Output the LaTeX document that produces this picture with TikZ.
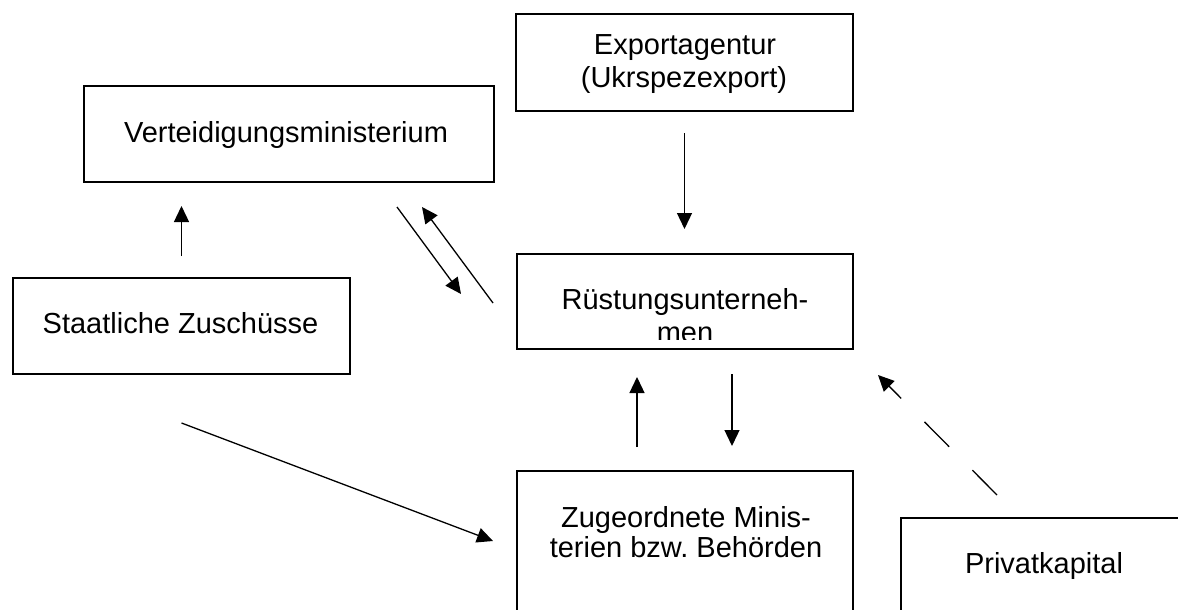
\documentclass[tikz,border=0pt]{standalone}
\usepackage{fontspec}
\setmainfont{Liberation Sans}
\usetikzlibrary{arrows.meta,calc}
\begin{document}
\frenchspacing
\begin{tikzpicture}[x=1pt,y=-1pt,
  box/.style={draw, line width=1.8pt, rectangle, inner sep=0pt, outer sep=0pt},
  txt/.style={anchor=base, inner sep=0pt, outer sep=0pt, font=\fontsize{29}{33}\selectfont},
  arr/.style={line width=1.3pt, -{Triangle[length=16pt,width=15pt]}},
  dsh/.style={dash pattern=on 35pt off 33pt},
]
\clip (0,0) rectangle (1178,610);
\fill[white] (0,0) rectangle (1178,610);

% boxes
\node[box, minimum width=337pt, minimum height=97pt] (exp) at (684.5,62.5) {};
\node[box, minimum width=410pt, minimum height=96pt] (ver) at (289,134) {};
\node[box, minimum width=337pt, minimum height=96pt] (sta) at (181.5,326) {};
\node[box, minimum width=336pt, minimum height=95pt] (rue) at (685,301.5) {};
\node[box, minimum width=336pt, minimum height=179pt] (zug) at (685,560.5) {};
\node[box, minimum width=319pt, minimum height=132pt] (pri) at (1060.5,584) {};

% texts
\node[txt] (expA) at (685,55) {Exportagentur};
\node[txt] (expB) at (684,88) {(Ukrspezexport)};
\node[txt] (verA) at (286,142) {Verteidigungsministerium};
\node[txt] (staA) at (180.5,333) {Staatliche Zuschüsse};
\begin{scope}
  \clip (517,250) rectangle (853,339);
  \node[txt] (rueA) at (685,309) {Rüstungsunterneh-};
  \node[txt] (rueB) at (685,342) {men};
\end{scope}
\node[txt] (zugA) at (686,527) {Zugeordnete Minis-};
\node[txt] (zugB) at (686,557) {terien bzw.\ Behörden};
\node[txt] (priA) at (1044,573) {Privatkapital};

% connectors
\draw[arr, shorten <=22pt, shorten >=24pt] (sta.north) -- (sta.north |- ver.south);
\draw[arr, shorten <=22pt, shorten >=25pt] (exp.south) -- (exp.south |- rue.north);

\coordinate (d1a) at (397,207);
\coordinate (d1b) at (461,294);
\coordinate (d2a) at (493,303);
\coordinate (d2b) at (422,207);
\draw[arr] (d1a) -- (d1b);
\draw[arr] (d2a) -- (d2b);

\draw[arr, shorten <=24pt, shorten >=28pt] ($(zug.north)+(-48,0)$) -- ($(rue.south)+(-48,0)$);
\draw[arr, shorten <=25pt, shorten >=25pt] ($(rue.south)+(47,0)$) -- ($(zug.north)+(47,0)$);

\coordinate (s1) at ($(sta.south)+(0,49)$);
\coordinate (t1) at (493,541);
\draw[arr] (s1) -- (t1);

\coordinate (p1) at (997,495);
\coordinate (p2) at (878,375);
\draw[arr, dsh] (p1) -- (p2);
\end{tikzpicture}
\end{document}
